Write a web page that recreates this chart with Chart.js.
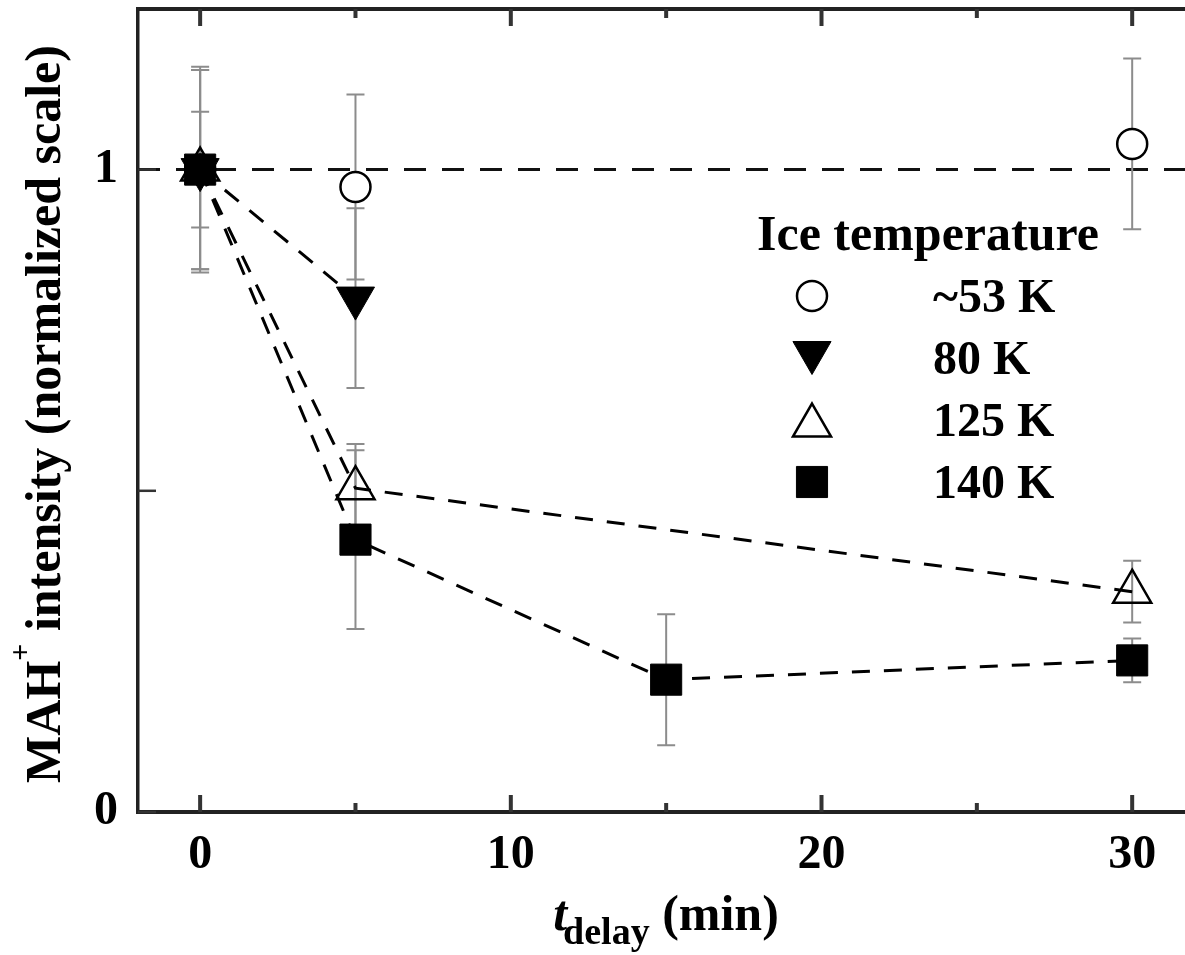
<!DOCTYPE html>
<html>
<head>
<meta charset="utf-8">
<script src="https://cdn.jsdelivr.net/npm/chart.js@4.4.1/dist/chart.umd.min.js"></script>
<style>
  html, body { margin: 0; padding: 0; background: #fff; }
  canvas { display: block; }
</style>
</head>
<body>
<canvas id="chart" width="1185" height="955"></canvas>
<script>
/* ---------- Dados ---------- */
const seriesLabels = ['~53 K', '80 K', '125 K', '140 K'];

const t53 = [0, 5, 30];
const int53 = [1.00, 0.973, 1.04];
const err53 = [0.16, 0.144, 0.133];

const t80 = [0, 5];
const int80 = [1.00, 0.80];
const err80 = [0.09, 0.14];

const t125 = [0, 5, 30];
const int125 = [1.00, 0.504, 0.343];
const err125 = [0.155, 0.069, 0.048];

const t140 = [0, 5, 15, 30];
const int140 = [1.00, 0.424, 0.206, 0.236];
const err140 = [0.155, 0.139, 0.102, 0.034];

const xMajorTicks = [0, 10, 20, 30];
const xMinorTicks = [5, 15, 25];
const yTicks = [0, 0.5, 1];
const yTickLabels = ['0', '', '1'];
const refLevel = 1;

const SERIF = '"Liberation Serif", "Times New Roman", "DejaVu Serif", serif';

function toPoints(xs, ys, errs) {
    return xs.map((x, i) => ({ x: x, y: ys[i], err: errs[i] }));
}

/* ---------- Marcadores (legenda) ---------- */
function drawMarker(ctx, ds, x, y) {
    const r = ds.pointRadius;
    ctx.save();
    ctx.beginPath();
    if (ds.pointStyle === 'circle') {
        ctx.arc(x, y, r, 0, Math.PI * 2);
    } else if (ds.pointStyle === 'rect') {
        const s = r * Math.SQRT1_2;
        ctx.rect(x - s, y - s, 2 * s, 2 * s);
    } else {
        // triângulo centrado na caixa
        const w = r * Math.sin(Math.PI / 3), h = 1.5 * r;
        const dir = ds.pointRotation === 180 ? -1 : 1;
        ctx.moveTo(x, y - dir * h / 2);
        ctx.lineTo(x + w, y + dir * h / 2);
        ctx.lineTo(x - w, y + dir * h / 2);
        ctx.closePath();
    }
    ctx.fillStyle = ds.pointBackgroundColor;
    ctx.fill();
    ctx.lineWidth = ds.pointBorderWidth;
    ctx.strokeStyle = ds.pointBorderColor;
    ctx.stroke();
    ctx.restore();
}

/* ---------- Plugins ---------- */
const errorBars = {
    id: 'errorBars',
    beforeDatasetsDraw(chart) {
        const { ctx, chartArea, scales: { x, y } } = chart;
        ctx.save();
        // linha de referência tracejada
        const yr = y.getPixelForValue(refLevel);
        ctx.strokeStyle = '#111';
        ctx.lineWidth = 3;
        ctx.setLineDash([22, 16]);
        ctx.beginPath();
        ctx.moveTo(chartArea.left, yr);
        ctx.lineTo(chartArea.right, yr);
        ctx.stroke();
        ctx.setLineDash([]);

        // barras de erro
        ctx.strokeStyle = '#8c8c8c';
        ctx.lineWidth = 2;
        chart.data.datasets.forEach(ds => {
            ds.data.forEach(p => {
                const px = x.getPixelForValue(p.x);
                const top = y.getPixelForValue(p.y + p.err);
                const bot = y.getPixelForValue(p.y - p.err);
                ctx.beginPath();
                ctx.moveTo(px, top); ctx.lineTo(px, bot);
                ctx.moveTo(px - 9, top); ctx.lineTo(px + 9, top);
                ctx.moveTo(px - 9, bot); ctx.lineTo(px + 9, bot);
                ctx.stroke();
            });
        });
        ctx.restore();
    }
};

const frameAndText = {
    id: 'frameAndText',
    afterDraw(chart) {
        const { ctx, chartArea: ca, scales: { x, y } } = chart;
        ctx.save();

        // borda superior
        ctx.strokeStyle = '#222';
        ctx.lineWidth = 4;
        ctx.beginPath();
        ctx.moveTo(ca.left - 2, ca.top);
        ctx.lineTo(ca.right, ca.top);
        ctx.stroke();

        // ticks para dentro
        ctx.lineWidth = 4;
        ctx.strokeStyle = '#333';
        const xt = (v, len) => {
            const px = x.getPixelForValue(v);
            ctx.beginPath();
            ctx.moveTo(px, ca.bottom); ctx.lineTo(px, ca.bottom - len);
            ctx.moveTo(px, ca.top); ctx.lineTo(px, ca.top + len);
            ctx.stroke();
        };
        xMajorTicks.forEach(v => xt(v, 17));
        xMinorTicks.forEach(v => xt(v, 9));
        ctx.lineWidth = 2.5;
        yTicks.forEach(v => {
            const py = y.getPixelForValue(v);
            ctx.beginPath();
            ctx.moveTo(ca.left, py); ctx.lineTo(ca.left + 18, py);
            ctx.stroke();
        });

        ctx.fillStyle = '#000';

        // título do eixo Y (rotacionado)
        ctx.save();
        ctx.translate(60, 414);
        ctx.rotate(-Math.PI / 2);
        const big = 'bold 50px ' + SERIF;
        const sup = 'bold 30px ' + SERIF;
        ctx.font = big;
        const wMah = ctx.measureText('MAH').width;
        const rest = ' intensity (normalized scale)';
        const wRest = ctx.measureText(rest).width;
        ctx.font = sup;
        const wPlus = ctx.measureText('+').width;
        let sx = -(wMah + wPlus + wRest) / 2;
        ctx.textBaseline = 'alphabetic';
        ctx.font = big;
        ctx.fillText('MAH', sx, 0);
        ctx.font = sup;
        ctx.fillText('+', sx + wMah, -30);
        ctx.font = big;
        ctx.fillText(rest, sx + wMah + wPlus, 0);
        ctx.restore();

        // título do eixo X: t_delay (min)
        const fT = 'italic bold 50px ' + SERIF;
        const fSub = 'bold 38px ' + SERIF;
        const fMin = 'bold 50px ' + SERIF;
        ctx.font = fT; const wT = ctx.measureText('t').width;
        ctx.font = fSub; const wSub = ctx.measureText('delay').width;
        ctx.font = fMin; const wMin = ctx.measureText(' (min)').width;
        let tx = 666 - (wT + wSub + wMin - 4) / 2;
        ctx.font = fT; ctx.fillText('t', tx, 930);
        ctx.font = fSub; ctx.fillText('delay', tx + wT - 4, 944);
        ctx.font = fMin; ctx.fillText(' (min)', tx + wT - 4 + wSub, 930);

        // legenda
        ctx.font = 'bold 50px ' + SERIF;
        ctx.fillText('Ice temperature', 757, 250);
        ctx.font = 'bold 48px ' + SERIF;
        chart.data.datasets.forEach((ds, i) => {
            const cy = 296 + i * 62;
            drawMarker(ctx, ds, 812, cy);
            ctx.fillText(ds.label, 933, cy + 16);
        });

        ctx.restore();
    }
};

/* ---------- Gráfico ---------- */
const lineCommon = {
    showLine: true,
    borderColor: '#000',
    borderWidth: 3,
    borderDash: [18, 14],
    pointBorderColor: '#000',
    clip: false
};

function noScalePadding(scale) {
    scale.paddingTop = 0;
    scale.paddingBottom = 0;
    scale.paddingLeft = 0;
    scale.paddingRight = 0;
}

new Chart(document.getElementById('chart').getContext('2d'), {
    type: 'scatter',
    data: {
        datasets: [
            {
                label: seriesLabels[0],
                data: toPoints(t53, int53, err53),
                order: 4,
                showLine: false,
                pointStyle: 'circle',
                pointRadius: 15,
                pointBorderWidth: 2.5,
                pointBackgroundColor: '#fff',
                pointBorderColor: '#000',
                clip: false
            },
            Object.assign({}, lineCommon, {
                label: seriesLabels[1],
                data: toPoints(t80, int80, err80),
                order: 2,
                pointStyle: 'triangle',
                pointRotation: 180,
                pointRadius: 22,
                pointBorderWidth: 1,
                pointBackgroundColor: '#000'
            }),
            Object.assign({}, lineCommon, {
                label: seriesLabels[2],
                data: toPoints(t125, int125, err125),
                order: 3,
                pointStyle: 'triangle',
                pointRadius: 22,
                pointBorderWidth: 2.5,
                pointBackgroundColor: 'rgba(0,0,0,0)'
            }),
            Object.assign({}, lineCommon, {
                label: seriesLabels[3],
                data: toPoints(t140, int140, err140),
                order: 1,
                pointStyle: 'rect',
                pointRadius: 22,
                pointBorderWidth: 1,
                pointBackgroundColor: '#000'
            })
        ]
    },
    options: {
        responsive: false,
        animation: false,
        events: [],
        layout: { autoPadding: false, padding: { top: 9, right: 0, left: 0, bottom: 0 } },
        plugins: { legend: { display: false }, tooltip: { enabled: false } },
        scales: {
            x: {
                type: 'linear',
                position: 'bottom',
                min: -2,
                max: 31.7,
                grid: { display: false, drawTicks: false },
                border: { display: true, color: '#222', width: 4 },
                afterBuildTicks: scale => { scale.ticks = xMajorTicks.map(v => ({ value: v })); },
                afterFit: scale => { scale.height = 143; noScalePadding(scale); },
                ticks: {
                    autoSkip: false,
                    maxRotation: 0,
                    padding: 15,
                    color: '#000',
                    font: { family: SERIF, size: 48, weight: 'bold' }
                }
            },
            y: {
                type: 'linear',
                position: 'left',
                min: 0,
                max: 1.25,
                grid: { display: false, drawTicks: false },
                border: { display: true, color: '#222', width: 3.5 },
                afterBuildTicks: scale => { scale.ticks = yTicks.map(v => ({ value: v })); },
                afterFit: scale => { scale.width = 138; noScalePadding(scale); },
                ticks: {
                    autoSkip: false,
                    padding: 20,
                    color: '#000',
                    font: { family: SERIF, size: 48, weight: 'bold' },
                    callback: (v, i) => yTickLabels[i]
                }
            }
        }
    },
    plugins: [errorBars, frameAndText]
});
</script>
</body>
</html>
